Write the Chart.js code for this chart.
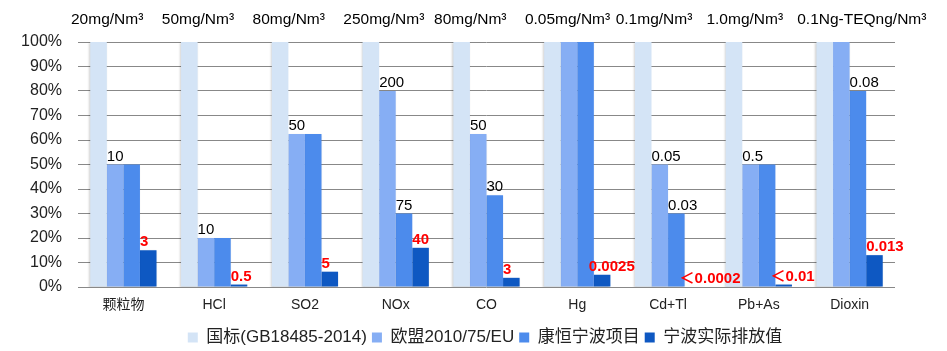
<!DOCTYPE html>
<html>
<head>
<meta charset="utf-8">
<script src="https://cdn.jsdelivr.net/npm/chart.js@4/dist/chart.umd.min.js"></script>
<style>
  html, body { margin: 0; padding: 0; background: #fff; }
  #wrap { width: 947px; height: 351px; position: relative; }
</style>
</head>
<body>
<div id="wrap"><canvas id="emissionChart"></canvas></div>
<script>
// ——— 数据 ———
const categories = ["颗粒物", "HCl", "SO2", "NOx", "CO", "Hg", "Cd+Tl", "Pb+As", "Dioxin"];
const unitLabels = ["20mg/Nm³", "50mg/Nm³", "80mg/Nm³", "250mg/Nm³", "80mg/Nm³",
  "0.05mg/Nm³", "0.1mg/Nm³", "1.0mg/Nm³", "0.1Ng-TEQng/Nm³"];
const seriesNames = ["国标(GB18485-2014)", "欧盟2010/75/EU", "康恒宁波项目", "宁波实际排放值"];

// 占国标限值的百分比
const gbValues = [100, 100, 100, 100, 100, 100, 100, 100, 100];
const euValues = [50, 20, 62.5, 80, 62.5, 100, 50, 50, 100];
const khValues = [50, 20, 62.5, 30, 37.5, 100, 30, 50, 80];
const actualValues = [15, 1, 6.25, 16, 3.75, 5, 0.2, 1, 13];

// 柱顶标注文字
const euLabels = ["10", "10", "50", "200", "50", "", "0.05", "0.5", ""];
const khLabels = ["", "", "", "75", "30", "", "0.03", "", "0.08"];
const actualLabels = ["3", "0.5", "5", "40", "3", "0.0025", "＜0.0002", "＜0.01", "0.013"];

const colors = ["#D4E4F6", "#86AEF4", "#4C8BEC", "#0E58C2"];
const fontLatin = "'Liberation Sans', Arial, 'Noto Sans CJK SC', sans-serif";

// ——— 柱顶标注 & 顶部单位 ———
const labelPlugin = {
  id: "labelPlugin",
  afterLayout(chart) {
    // 图例居中于绘图区并略下移
    const lg = chart.legend;
    lg.left = chart.chartArea.left - 3;
    lg.top += 5;
    lg.bottom += 5;
  },
  beforeDatasetsDraw(chart) {
    const ctx = chart.ctx;
    ctx.save();
    ctx.shadowColor = "rgba(0,0,0,0.18)";
    ctx.shadowBlur = 2;
    ctx.shadowOffsetX = -1;
    ctx.shadowOffsetY = 1;
  },
  afterDatasetsDraw(chart) {
    const ctx = chart.ctx;
    ctx.restore();
    const groups = [
      { idx: 1, texts: euLabels, color: "#000", weight: "normal" },
      { idx: 2, texts: khLabels, color: "#000", weight: "normal" },
      { idx: 3, texts: actualLabels, color: "#FF0000", weight: "bold" },
    ];
    ctx.save();
    ctx.textAlign = "left";
    ctx.textBaseline = "alphabetic";
    groups.forEach((g) => {
      const meta = chart.getDatasetMeta(g.idx);
      ctx.fillStyle = g.color;
      ctx.font = g.weight + " 15px " + fontLatin;
      meta.data.forEach((bar, i) => {
        const t = g.texts[i];
        if (!t) return;
        let x = bar.x - bar.width / 2;
        // 长标注略向左
        if (t.length > 5 || t.startsWith("＜")) x -= 5;
        ctx.fillText(t, x, bar.y - 4);
      });
    });
    // 顶部单位
    const xs = chart.scales.x;
    const step = (xs.right - xs.left) / categories.length;
    ctx.fillStyle = "#000";
    ctx.font = "15.5px " + fontLatin;
    unitLabels.forEach((u, i) => {
      ctx.fillText(u, xs.left + step * i - 7, 24);
    });
    ctx.restore();
  },
};

const datasets = [gbValues, euValues, khValues, actualValues].map((vals, k) => ({
  label: seriesNames[k],
  data: vals,
  backgroundColor: colors[k],
  borderWidth: 0,
  categoryPercentage: 0.73,
  barPercentage: 1.0,
}));

new Chart(document.getElementById("emissionChart"), {
  type: "bar",
  data: { labels: categories, datasets },
  options: {
    responsive: true,
    maintainAspectRatio: false,
    animation: false,
    layout: { padding: { top: 42, right: 52, left: 0, bottom: 0 } },
    scales: {
      x: {
        grid: { display: false, drawTicks: false },
        border: { display: false },
        ticks: {
          color: "#222",
          padding: 10,
          font: { family: fontLatin, size: 14 },
        },
        afterFit(scale) { scale.height = 32; },
      },
      y: {
        min: 0,
        max: 100,
        grid: { color: "#888", lineWidth: 1, drawTicks: false },
        border: { display: false },
        ticks: {
          stepSize: 10,
          color: "#222",
          padding: 16,
          font: { family: fontLatin, size: 16 },
          callback: (v) => v + "%",
        },
        afterFit(scale) { scale.width = 78; },
      },
    },
    plugins: {
      legend: {
        position: "bottom",
        labels: {
          boxWidth: 10,
          boxHeight: 10,
          padding: 5,
          color: "#222",
          font: { family: fontLatin, size: 17 },
        },
      },
      tooltip: { enabled: false },
    },
  },
  plugins: [labelPlugin],
});
</script>
</body>
</html>
